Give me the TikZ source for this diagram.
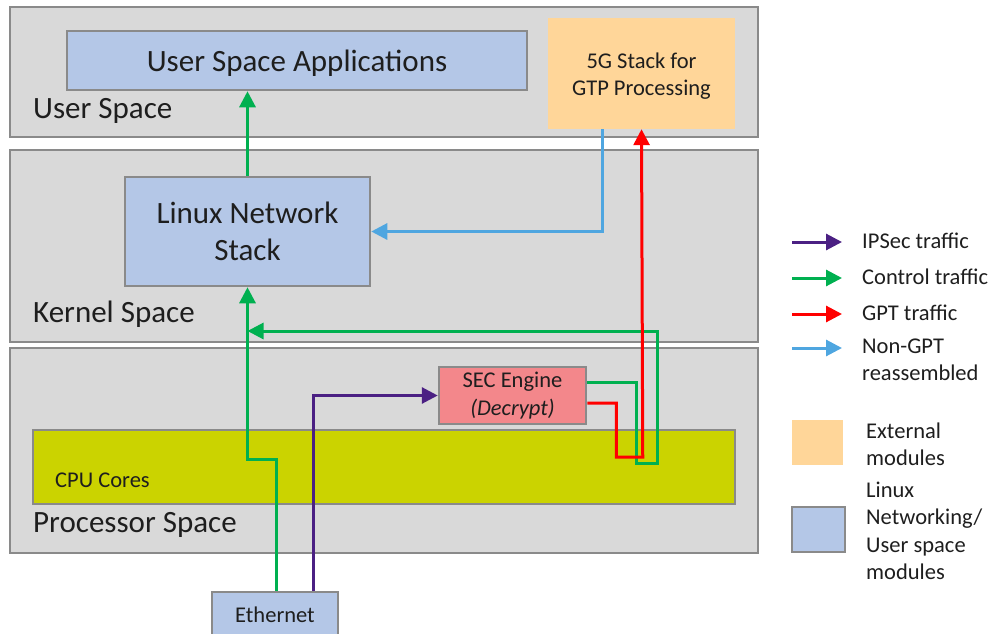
\documentclass[tikz,border=0pt]{standalone}
\usepackage{fontspec}
\setmainfont{Carlito}
\usetikzlibrary{arrows.meta}

\definecolor{panelgray}{HTML}{D9D9D9}
\definecolor{edgegray}{HTML}{8A8A8A}
\definecolor{modblue}{HTML}{B4C7E7}
\definecolor{extorange}{HTML}{FFD699}
\definecolor{secpink}{HTML}{F3878B}
\definecolor{cpuyellow}{HTML}{CBD300}
\definecolor{ctlgreen}{HTML}{00B050}
\definecolor{gptred}{HTML}{FF0000}
\definecolor{reasmblue}{HTML}{4FA6E0}
\definecolor{ipspurple}{HTML}{4B2083}
\definecolor{txt}{HTML}{1E1E1E}

\begin{document}
\begin{tikzpicture}[x=1pt,y=-1pt,
  panel/.style={draw=edgegray, fill=panelgray, line width=2.5pt, inner sep=0pt},
  modbox/.style={draw=edgegray, fill=modblue, line width=2.5pt, inner sep=0pt, text=txt, align=center},
  big/.style={font=\fontsize{31}{37}\selectfont},
  small/.style={font=\fontsize{22.5}{27.5}\selectfont},
  lbl/.style={inner sep=0pt, anchor=west, text=txt, align=left},
  flow/.style={line width=3pt, -{Triangle[length=16pt,width=16pt]}},
  ctl/.style={flow, draw=ctlgreen},
  gpt/.style={flow, draw=gptred},
  reasm/.style={flow, draw=reasmblue},
  ips/.style={flow, draw=ipspurple},
]
\useasboundingbox (0,0) rectangle (998,634);
\clip (0,0) rectangle (998,634);

% the three address-space layers
\node[panel, minimum width=748pt, minimum height=130pt] (userpanel) at (384,72) {};
\node[panel, minimum width=748pt, minimum height=192pt] (kernpanel) at (384,246) {};
\node[panel, minimum width=748pt, minimum height=205pt] (procpanel) at (384,450.5) {};

\node[lbl, big] (userlbl) at (33,111) {User Space};
\node[lbl, big] (kernlbl) at (33,314) {Kernel Space};
\node[lbl, big] (proclbl) at (33,525) {Processor Space};

% modules
\node[modbox, minimum width=460pt, minimum height=59pt] (apps) at (297,60.5) {};
\node[big, inner sep=0pt, text=txt] (appstxt) at (297,63) {User Space Applications};
\node[fill=extorange, inner sep=0pt, minimum width=187pt, minimum height=111pt]
  (fiveg) at (641.5,73.5) {};
\node[small, inner sep=0pt, align=center, text=txt] (fivegtxt) at (641.5,76) {5G Stack for\\GTP Processing};
\node[modbox, big, minimum width=245pt, minimum height=109pt] (lns) at (247.5,231.5) {Linux Network\\Stack};

\node[draw=edgegray, fill=cpuyellow, line width=2.5pt, inner sep=0pt, minimum width=702pt, minimum height=74pt]
  (cpu) at (384,467) {};
\node[lbl, small] (cpulbl) at (55,480) {CPU Cores};

\node[draw=edgegray, fill=secpink, line width=2.5pt, inner sep=0pt, minimum width=147pt, minimum height=57pt,
  small, align=center, text=txt] (sec) at (512.5,395.5) {SEC Engine\\\textit{(Decrypt)}};

\node[modbox, small, minimum width=126pt, minimum height=46pt] (eth) at (275,615) {Ethernet};

% traffic paths
\coordinate (gjoin) at (247.5,331);
\draw[ctl] (lns.north) -- (lns.north |- apps.south);
\draw[ctl] ([xshift=1pt]eth.north) -- ++(0,-131) -| (lns.south);
\draw[ctl] ([yshift=13.5pt]sec.east) -- ++(49,0) -- ++(0,81) -- ++(21,0) |- (gjoin);
\draw[gpt] ([yshift=-7.5pt]sec.east) -- ++(29,0) -- ++(0,54) -- ++(26.5,0) -- (fiveg.south);
\draw[reasm] ([xshift=-39.5pt]fiveg.south) |- (lns.east);
\draw[ips] ([xshift=38pt]eth.north) |- (sec.west);

% legend
\node[lbl, small] (lgips) at (862,241) {IPSec traffic};
\node[lbl, small] (lgctl) at (862,277) {Control traffic};
\node[lbl, small] (lggpt) at (862,313) {GPT traffic};
\node[lbl, small] (lgreasm) at (862,360) {Non-GPT\\reassembled};
\draw[ips] ([xshift=-70pt,yshift=-1pt]lgips.west) -- ([xshift=-20pt,yshift=-1pt]lgips.west);
\draw[ctl] ([xshift=-70pt,yshift=-1pt]lgctl.west) -- ([xshift=-20pt,yshift=-1pt]lgctl.west);
\draw[gpt] ([xshift=-70pt,yshift=-1pt]lggpt.west) -- ([xshift=-20pt,yshift=-1pt]lggpt.west);
\draw[reasm] ([xshift=-70pt,yshift=12pt]lgreasm.west) -- ([xshift=-20pt,yshift=12pt]lgreasm.west);

\node[fill=extorange, inner sep=0pt, minimum width=51pt, minimum height=45pt] (lgextbox) at (817.5,442.5) {};
\node[lbl, small] (lgext) at (866,444.5) {External\\modules};
\node[draw=edgegray, fill=modblue, line width=2.5pt, inner sep=0pt, minimum width=53pt, minimum height=45pt]
  (lglinbox) at (818.5,529.5) {};
\node[lbl, small] (lglin) at (866,531) {Linux\\Networking/\\User space\\modules};
\end{tikzpicture}
\end{document}
